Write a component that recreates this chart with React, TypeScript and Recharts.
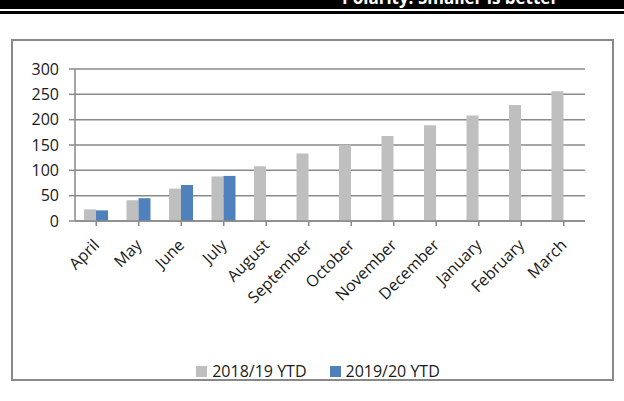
import { BarChart, Bar, XAxis, YAxis, CartesianGrid, Legend } from "recharts";

const months = [
  "April", "May", "June", "July", "August", "September",
  "October", "November", "December", "January", "February", "March",
];
const ytd1819 = [23, 41, 64, 88, 108, 133, 150, 168, 189, 208, 229, 256];
const ytd1920: (number | null)[] = [21, 45, 71, 89, null, null, null, null, null, null, null, null];
const yTicks = [0, 50, 100, 150, 200, 250, 300];

const data = months.map((m, i) => ({ month: m, prev: ytd1819[i], curr: ytd1920[i] }));

const FONT = "'Open Sans', sans-serif";
const AXIS = "#898989";

function LegendContent({ payload }: { payload?: any[] }) {
  return (
    <div style={{ display: "flex", justifyContent: "center", fontFamily: FONT, fontSize: 16, color: "#1a1a1a" }}>
      {(payload ?? []).map((p, i) => (
        <div key={p.value} style={{ display: "flex", alignItems: "center", marginLeft: i ? 23 : 0 }}>
          <span style={{ width: 11, height: 11, background: p.color, marginRight: 5, display: "inline-block" }} />
          <span>{p.value}</span>
        </div>
      ))}
    </div>
  );
}

export default function App() {
  return (
    <div style={{ position: "absolute", left: 0, top: 0, width: 624, height: 401, background: "#fff", overflow: "hidden" }}>
      <div style={{ position: "absolute", left: 0, top: 0, width: 624, height: 9, background: "#000", overflow: "hidden" }}>
        <div style={{ position: "absolute", left: 342, top: -11, lineHeight: "17px", fontSize: 17, fontWeight: 700, fontFamily: FONT, color: "#fff", whiteSpace: "nowrap" }}>
          Polarity: Smaller is better
        </div>
      </div>
      <div style={{ position: "absolute", left: 0, top: 11, width: 624, height: 3, background: "#000" }} />
      <div style={{ position: "absolute", left: 11, top: 39, width: 603, height: 342, border: `2px solid ${AXIS}`, boxSizing: "border-box" }} />
      <div style={{ position: "absolute", left: 0, top: 0 }}>
        <BarChart width={624} height={401} data={data} margin={{ top: 69, right: 39, bottom: 0, left: 0 }} barSize={12} barGap={0}>
          <CartesianGrid vertical={false} stroke={AXIS} strokeWidth={1.5} />
          <XAxis
            dataKey="month"
            height={180}
            interval={0}
            angle={-45}
            textAnchor="end"
            tickSize={5}
            tickMargin={12}
            stroke={AXIS}
            strokeWidth={1.5}
            tick={{ fill: "#1a1a1a", fontSize: 16, fontFamily: FONT, dx: -4 }}
          />
          <YAxis
            width={75}
            domain={[0, 300]}
            ticks={yTicks}
            tickSize={6}
            tickMargin={10}
            stroke={AXIS}
            strokeWidth={1.5}
            tick={{ fill: "#1a1a1a", fontSize: 16, fontFamily: FONT }}
          />
          <Legend
            verticalAlign="middle"
            layout="horizontal"
            content={<LegendContent />}
            wrapperStyle={{ top: 360, left: 6, width: 624 }}
          />
          <Bar dataKey="prev" name="2018/19 YTD" fill="#BFBFBF" isAnimationActive={false} />
          <Bar dataKey="curr" name="2019/20 YTD" fill="#4F81BD" isAnimationActive={false} />
        </BarChart>
      </div>
    </div>
  );
}
